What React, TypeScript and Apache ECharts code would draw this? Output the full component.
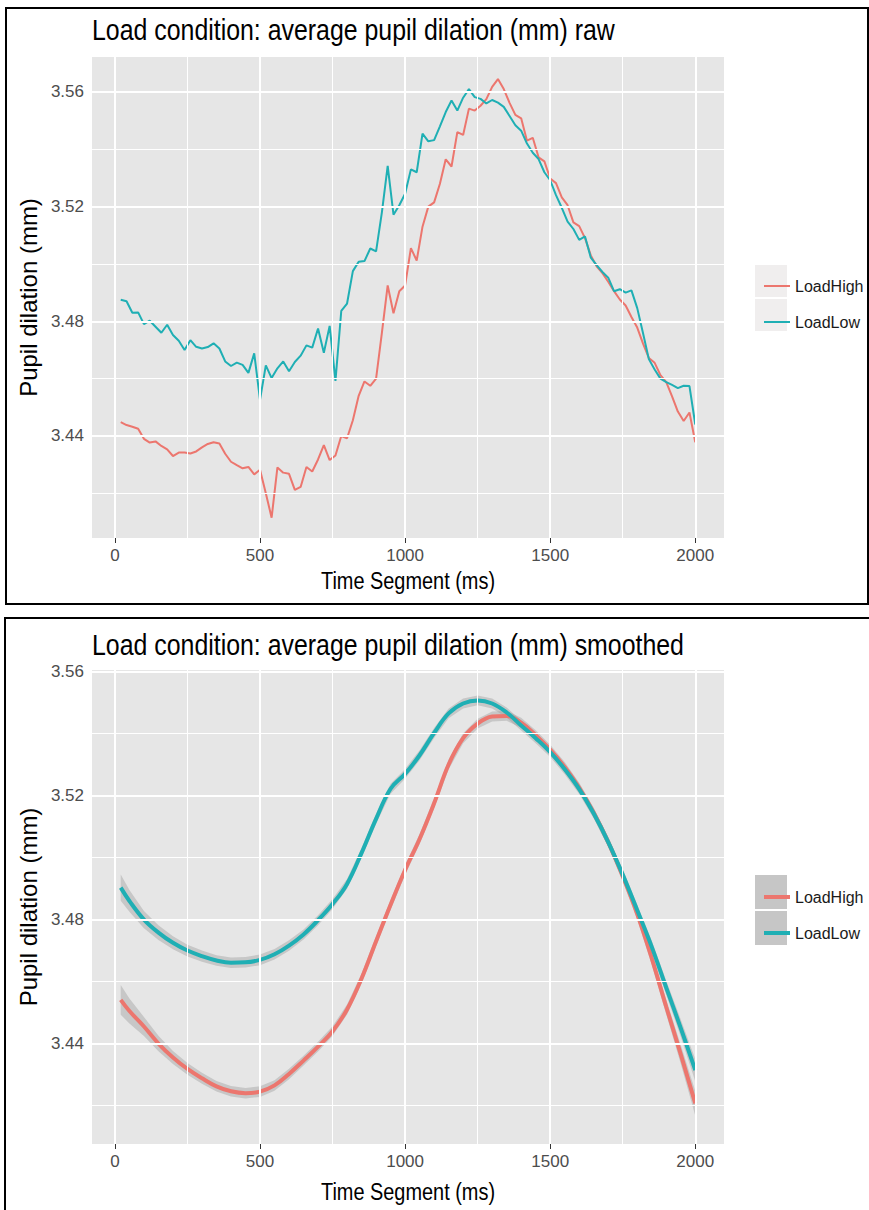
import React, { useEffect, useRef } from "react";
import * as echarts from "echarts";

const SERIES_NAMES = ["LoadHigh", "LoadLow"];
const TITLE_RAW = "Load condition: average pupil dilation (mm) raw";
const TITLE_SMOOTH = "Load condition: average pupil dilation (mm) smoothed";
const X_NAME = "Time Segment (ms)";
const Y_NAME = "Pupil dilation (mm)";

const X_MAJOR = [0, 500, 1000, 1500, 2000];
const X_MINOR = [250, 750, 1250, 1750];
const Y_MAJOR = [3.44, 3.48, 3.52, 3.56];
const Y_MINOR = [3.42, 3.46, 3.5, 3.54];

const RAW_TIME = [
  20, 40, 60, 80, 100, 120, 140, 160, 180, 200, 220, 240, 260, 280, 300, 320, 340, 360, 380, 400,
  420, 440, 460, 480, 500, 520, 540, 560, 580, 600, 620, 640, 660, 680, 700, 720, 740, 760, 780, 800,
  820, 840, 860, 880, 900, 920, 940, 960, 980, 1000, 1020, 1040, 1060, 1080, 1100, 1120, 1140, 1160, 1180, 1200,
  1220, 1240, 1260, 1280, 1300, 1320, 1340, 1360, 1380, 1400, 1420, 1440, 1460, 1480, 1500, 1520, 1540, 1560, 1580, 1600,
  1620, 1640, 1660, 1680, 1700, 1720, 1740, 1760, 1780, 1800, 1820, 1840, 1860, 1880, 1900, 1920, 1940, 1960, 1980, 2000,
];

const RAW_HIGH = [
  3.4448, 3.4438, 3.4432, 3.4425, 3.439, 3.4377, 3.4381, 3.4365, 3.4353, 3.433,
  3.4342, 3.4342, 3.4339, 3.4346, 3.436, 3.4372, 3.4378, 3.4374, 3.4338, 3.431,
  3.4298, 3.4287, 3.4292, 3.4266, 3.4282, 3.42, 3.4115, 3.429, 3.4272, 3.4268,
  3.4212, 3.4222, 3.4292, 3.4276, 3.4318, 3.4368, 3.4316, 3.4332, 3.44, 3.4392,
  3.4455, 3.454, 3.459, 3.4575, 3.46, 3.476, 3.4925, 3.4828, 3.4905, 3.4925,
  3.5055, 3.5012, 3.513, 3.52, 3.5215, 3.528, 3.5365, 3.534, 3.546, 3.545,
  3.5542, 3.5535, 3.5552, 3.5575, 3.5618, 3.5645, 3.561, 3.5562, 3.552, 3.5508,
  3.543, 3.544, 3.5372, 3.5358, 3.5298, 3.5282, 3.5232, 3.5205, 3.5145, 3.5132,
  3.509, 3.503, 3.4992, 3.4968, 3.4938, 3.4905, 3.4876, 3.4855, 3.4815, 3.4778,
  3.4722, 3.4672, 3.4655, 3.4612, 3.4588, 3.4538, 3.4485, 3.4452, 3.4482, 3.4378,
];

const RAW_LOW = [
  3.4875, 3.487, 3.483, 3.4831, 3.479, 3.4802, 3.4781, 3.476, 3.4788, 3.4752,
  3.4732, 3.47, 3.4734, 3.4711, 3.4705, 3.471, 3.4723, 3.4705, 3.466, 3.4644,
  3.4656, 3.4648, 3.462, 3.4688, 3.4526, 3.4646, 3.4602, 3.4636, 3.466, 3.4626,
  3.4658, 3.468, 3.4716, 3.4708, 3.4775, 3.469, 3.4784, 3.4592, 3.4836, 3.4862,
  3.4975, 3.5008, 3.501, 3.5054, 3.5044, 3.518, 3.5342, 3.5172, 3.5205, 3.5245,
  3.533, 3.532, 3.5455, 3.5428, 3.5432, 3.548, 3.553, 3.557, 3.5535, 3.558,
  3.561, 3.5582, 3.5576, 3.556, 3.5572, 3.5563, 3.5548, 3.5516, 3.5484, 3.5465,
  3.542, 3.5388, 3.5366, 3.532, 3.5292, 3.524, 3.5196, 3.5148, 3.5122, 3.5084,
  3.5096, 3.5022, 3.4996, 3.4972, 3.4952, 3.4905, 3.4912, 3.49, 3.4908, 3.4846,
  3.4758, 3.4668, 3.4632, 3.46, 3.4588, 3.4578, 3.4567, 3.4575, 3.4574, 3.444,
];

const SMOOTH_TIME = [
  20, 50, 100, 150, 200, 250, 300, 350, 400, 450, 500, 550, 600, 650, 700, 750, 800, 850, 900, 950,
  1000, 1050, 1100, 1150, 1200, 1250, 1300, 1350, 1400, 1450, 1500, 1550, 1600, 1650, 1700, 1750, 1800, 1850, 1900, 1950, 2000,
];

const SMOOTH_HIGH = [
  3.4541, 3.4505, 3.4455, 3.44, 3.4355, 3.4318, 3.4288, 3.4262, 3.4246, 3.424,
  3.4245, 3.4265, 3.4302, 3.4345, 3.439, 3.444, 3.451, 3.461, 3.473, 3.4848,
  3.496, 3.506, 3.5175, 3.53, 3.5385, 3.5432, 3.5455, 3.5457, 3.5435, 3.5395,
  3.5348, 3.5292, 3.5225, 3.5145, 3.505, 3.494, 3.4818, 3.4675, 3.4518, 3.4365, 3.4207,
];

const SMOOTH_HIGH_CI = [
  0.0048, 0.004, 0.0031, 0.0025, 0.0021, 0.0019, 0.0018, 0.0017, 0.0017, 0.0017,
  0.0017, 0.0017, 0.0017, 0.0016, 0.0016, 0.0016, 0.0016, 0.0016, 0.0016, 0.0016,
  0.0016, 0.0016, 0.0016, 0.0016, 0.0016, 0.0016, 0.0016, 0.0016, 0.0016, 0.0016,
  0.0016, 0.0016, 0.0016, 0.0016, 0.0016, 0.0017, 0.0018, 0.002, 0.0024, 0.003, 0.004,
];

const SMOOTH_LOW = [
  3.4903, 3.486, 3.48, 3.4758, 3.4725, 3.47, 3.4682, 3.4668, 3.4661, 3.4662,
  3.467, 3.4688, 3.4716, 3.4752, 3.4798, 3.485, 3.4915, 3.5015, 3.5125, 3.5222,
  3.527, 3.533, 3.5402, 3.5465, 3.5497, 3.5507, 3.5497, 3.5468, 3.5426, 3.5385,
  3.534, 3.5285, 3.5221, 3.5142, 3.505, 3.4945, 3.483, 3.4712, 3.458, 3.445, 3.4314,
];

const SMOOTH_LOW_CI = [
  0.0042, 0.0035, 0.0028, 0.0024, 0.0021, 0.0019, 0.0018, 0.0017, 0.0017, 0.0017,
  0.0017, 0.0017, 0.0017, 0.0016, 0.0016, 0.0016, 0.0016, 0.0016, 0.0016, 0.0016,
  0.0016, 0.0016, 0.0016, 0.0016, 0.0016, 0.0016, 0.0016, 0.0016, 0.0016, 0.0016,
  0.0016, 0.0016, 0.0016, 0.0016, 0.0016, 0.0017, 0.0018, 0.002, 0.0023, 0.0028, 0.0036,
];

const RED = "#EC766E";
const TEAL = "#1FAFB4";
const PANEL = "#E6E6E6";
const BAND = "rgba(153,153,153,0.4)";
const FONT = "'Liberation Sans', Arial, sans-serif";
const SQUEEZE = 0.83;

function gridLineSeries(idx: number) {
  const major = { color: "#FFFFFF", width: 2, type: "solid" };
  const minor = { color: "#FFFFFF", width: 1, type: "solid" };
  return {
    type: "line",
    name: "gridlines" + idx,
    xAxisIndex: idx,
    yAxisIndex: idx,
    data: [],
    z: 1,
    silent: true,
    markLine: {
      silent: true,
      symbol: ["none", "none"],
      animation: false,
      label: { show: false },
      emphasis: { disabled: true },
      data: [
        ...X_MINOR.map((v) => ({ xAxis: v, lineStyle: minor })),
        ...Y_MINOR.map((v) => ({ yAxis: v, lineStyle: minor })),
        ...X_MAJOR.map((v) => ({ xAxis: v, lineStyle: major })),
        ...Y_MAJOR.map((v) => ({ yAxis: v, lineStyle: major })),
      ],
    },
  };
}

function bandSeries(idx: number, mean: number[], ci: number[]) {
  return {
    type: "custom",
    xAxisIndex: idx,
    yAxisIndex: idx,
    z: 2,
    silent: true,
    data: SMOOTH_TIME.map((t, i) => [t, mean[i] - ci[i], mean[i] + ci[i]]),
    encode: { x: 0, y: [1, 2] },
    renderItem: (params: any, api: any) => {
      if (params.dataIndex !== 0) return null;
      const n = params.dataInsideLength;
      const upper: number[][] = [];
      const lower: number[][] = [];
      for (let i = 0; i < n; i++) {
        upper.push(api.coord([api.value(0, i), api.value(2, i)]));
        lower.push(api.coord([api.value(0, i), api.value(1, i)]));
      }
      return {
        type: "polygon",
        shape: { points: upper.concat(lower.reverse()) },
        style: { fill: BAND, stroke: "none" },
      };
    },
  };
}

function lineSeries(idx: number, name: string, times: number[], vals: number[], color: string, width: number, smooth: boolean) {
  return {
    type: "line",
    name,
    xAxisIndex: idx,
    yAxisIndex: idx,
    z: 2,
    data: times.map((t, i) => [t, vals[i]]),
    showSymbol: false,
    symbol: "none",
    smooth: smooth ? 0.4 : false,
    lineStyle: { color, width },
    itemStyle: { color },
    emphasis: { disabled: true },
  };
}

function xAxis(idx: number) {
  return {
    type: "value",
    gridIndex: idx,
    min: -79,
    max: 2099,
    axisLine: { show: false },
    axisTick: { show: true, length: 5, customValues: X_MAJOR, lineStyle: { color: "#333333", width: 1 } },
    axisLabel: {
      customValues: X_MAJOR,
      color: "#4D4D4D",
      fontSize: 17,
      fontFamily: FONT,
      margin: 9,
      formatter: (v: number) => String(v),
    },
    splitLine: { show: false },
  };
}

function yAxis(idx: number, min: number, max: number) {
  return {
    type: "value",
    gridIndex: idx,
    min,
    max,
    axisLine: { show: false },
    axisTick: { show: true, length: 5, customValues: Y_MAJOR, lineStyle: { color: "#333333", width: 1 } },
    axisLabel: {
      customValues: Y_MAJOR,
      color: "#4D4D4D",
      fontSize: 17,
      fontFamily: FONT,
      margin: 8,
      formatter: (v: number) => v.toFixed(2),
    },
    splitLine: { show: false },
    name: Y_NAME,
    nameLocation: "middle",
    nameGap: 45,
    nameTextStyle: { color: "#000000", fontSize: 24, fontFamily: FONT },
  };
}

function squeezedText(text: string, x: number, y: number, size: number, align: string) {
  return {
    type: "text",
    x,
    y,
    scaleX: SQUEEZE,
    silent: true,
    style: { text, fill: "#000000", fontSize: size, fontFamily: FONT, align, verticalAlign: "middle" },
  };
}

function legend(top: number, iconH: number) {
  return {
    data: SERIES_NAMES,
    orient: "vertical",
    left: 759,
    top,
    icon: "rect",
    itemWidth: 26,
    itemHeight: iconH,
    itemGap: 18,
    selectedMode: false,
    textStyle: { fontSize: 16, color: "#1A1A1A", fontFamily: FONT, lineHeight: 18 },
  };
}

function buildOption() {
  return {
    animation: false,
    backgroundColor: "#FFFFFF",
    legend: [legend(272, 2), legend(883, 4)],
    grid: [
      { left: 92, top: 57, width: 632, height: 481, show: true, backgroundColor: PANEL, borderWidth: 0 },
      { left: 92, top: 670, width: 632, height: 474, show: true, backgroundColor: PANEL, borderWidth: 0 },
    ],
    xAxis: [xAxis(0), xAxis(1)],
    yAxis: [yAxis(0, 3.4044, 3.5722), yAxis(1, 3.4076, 3.5605)],
    graphic: [
      { type: "rect", shape: { x: 6, y: 8, width: 862, height: 596 }, style: { fill: "none", stroke: "#000", lineWidth: 2 } },
      { type: "rect", shape: { x: 5, y: 618, width: 866, height: 620 }, style: { fill: "none", stroke: "#000", lineWidth: 2 } },
      { type: "rect", shape: { x: 755, y: 265, width: 32, height: 32 }, style: { fill: "#F0EEEE" } },
      { type: "rect", shape: { x: 755, y: 299, width: 32, height: 32 }, style: { fill: "#F0EEEE" } },
      { type: "rect", shape: { x: 755, y: 875, width: 32, height: 34 }, style: { fill: "#C6C6C6" } },
      { type: "rect", shape: { x: 755, y: 911, width: 32, height: 34 }, style: { fill: "#C6C6C6" } },
      squeezedText(TITLE_RAW, 92, 30, 30, "left"),
      squeezedText(TITLE_SMOOTH, 92, 645, 30, "left"),
      squeezedText(X_NAME, 408, 581, 24, "center"),
      squeezedText(X_NAME, 408, 1192, 24, "center"),
    ],
    series: [
      gridLineSeries(0),
      gridLineSeries(1),
      lineSeries(0, SERIES_NAMES[0], RAW_TIME, RAW_HIGH, RED, 2, false),
      lineSeries(0, SERIES_NAMES[1], RAW_TIME, RAW_LOW, TEAL, 2, false),
      bandSeries(1, SMOOTH_HIGH, SMOOTH_HIGH_CI),
      lineSeries(1, SERIES_NAMES[0], SMOOTH_TIME, SMOOTH_HIGH, RED, 4, true),
      bandSeries(1, SMOOTH_LOW, SMOOTH_LOW_CI),
      lineSeries(1, SERIES_NAMES[1], SMOOTH_TIME, SMOOTH_LOW, TEAL, 4, true),
    ],
  };
}

export default function App() {
  const ref = useRef<HTMLDivElement>(null);
  useEffect(() => {
    if (!ref.current) return;
    const chart = echarts.init(ref.current, undefined, { renderer: "svg" });
    chart.setOption(buildOption() as any);
    return () => chart.dispose();
  }, []);
  return (
    <div
      ref={ref}
      style={{ position: "absolute", left: 0, top: 0, width: 869, height: 1210, background: "#FFFFFF" }}
    />
  );
}
